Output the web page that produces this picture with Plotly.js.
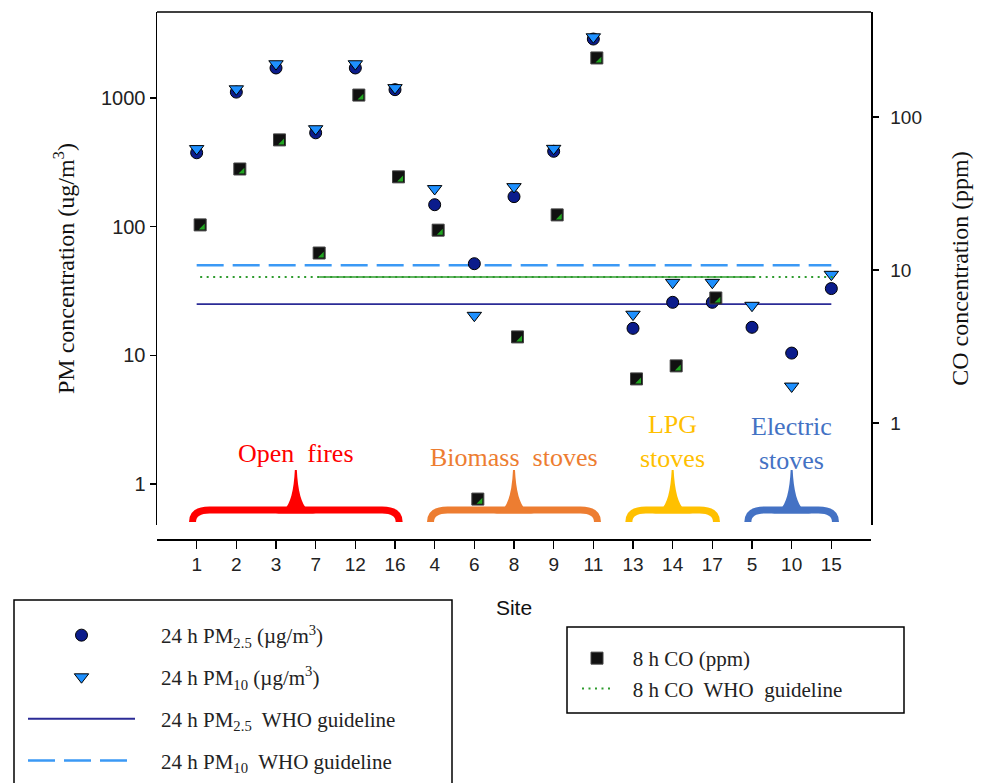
<!DOCTYPE html>
<html><head><meta charset="utf-8">
<script src="https://cdn.plot.ly/plotly-3.0.1.min.js"></script>
<style>html,body{margin:0;padding:0;background:#fff}#chart{width:983px;height:783px}</style>
</head><body><div id="chart"></div>
<script>
// ---------------- data ----------------
const sites = ["1","2","3","7","12","16","4","6","8","9","11","13","14","17","5","10","15"];
const pm25 = [375, 1110, 1710, 536, 1710, 1160, 148, 51.5, 171, 385, 2870, 16.2, 25.8, 25.8, 16.5, 10.4, 33];
const pm10 = [403, 1175, 1840, 575, 1840, 1200, 197, 20.4, 204, 405, 2980, 20.8, 36.8, 36.8, 24.4, 5.75, 42.5];
const co   = [19.7, 45.7, 70.8, 12.9, 139, 40.6, 18.2, 0.318, 3.65, 22.9, 243, 1.94, 2.36, 6.56, null, null, null];
const pm25Guideline = 25;   // ug/m3
const pm10Guideline = 50;   // ug/m3
const coGuideline = 9;      // ppm
const coGuidelineSolidSpan = ["7", "5"];
const leftTickVals = [1, 10, 100, 1000];
const leftTickText = ["1", "10", "100", "1000"];
const rightTickVals = [1, 10, 100];
const rightTickText = ["1", "10", "100"];
const groupLabels = ["Open\u00a0 fires", "Biomass\u00a0 stoves", "LPG<br>stoves", "Electric<br>stoves"];
const groupFirst = ["1", "4", "13", "5"];
const groupLast  = ["16", "11", "17", "15"];

// ---------------- styles / layout geometry ----------------
const groupColors = ["#FF0000", "#ED7D31", "#FFC000", "#4472C4"];
const groupLabelY = [453, 457, 441, 443];        // px
const W = 983, H = 783, M = {l: 157, r: 112, t: 12, b: 244, autoexpand: false};
const plotW = W - M.l - M.r, paperH = H - M.t - M.b;
const X_RANGE = [-1, 17];
const LEFT_RANGE = [-0.319, 3.668];
const RIGHT_RANGE = [-0.667, 2.686];
const catPx = plotW / (X_RANGE[1] - X_RANGE[0]);
const coShift = 3.5 / catPx;                       // CO markers drawn slightly right
const triShiftX = 2.6 / catPx;
const triShiftY = 2.6 / (paperH * (1 - 0.02657) / (RIGHT_RANGE[1] - RIGHT_RANGE[0]));
const py = y => (H - M.b - y) / paperH;
const pxPix = x => (x - M.l) / plotW;
const pxIdx = i => (i - X_RANGE[0]) / (X_RANGE[1] - X_RANGE[0]);
const dx = v => v / plotW;
const serif = "Liberation Serif, Times New Roman, serif";
const sans = "Liberation Sans, Arial, sans-serif";
const pad1 = "\u00a0\u00a0\u00a0\u00a0", pad2 = "\u00a0\u00a0\u00a0";

const traces = [
  {x: [sites[0], sites[sites.length - 1]], y: [pm25Guideline, pm25Guideline], mode: "lines",
   name: pad1 + "24 h PM<sub>2.5</sub>  WHO guideline", line: {color: "#2B2B96", width: 1.8},
   legend: "legend", legendgroup: "g3", legendrank: 3},
  {x: [sites[0], sites[sites.length - 1]], y: [pm10Guideline, pm10Guideline], mode: "lines",
   name: pad1 + "24 h PM<sub>10</sub>  WHO guideline", line: {color: "#3B99F5", width: 2.5, dash: "27px,9px"},
   legend: "legend", legendgroup: "g4", legendrank: 4},
  {x: sites, y: pm25, mode: "markers", name: pad1 + "24 h PM<sub>2.5</sub> (µg/m<sup>3</sup>)",
   marker: {symbol: "circle", size: 12, color: "#0B1C8C", line: {color: "#000", width: 1}},
   legend: "legend", legendgroup: "g1", legendrank: 1},
  {x: sites, y: pm10, mode: "markers", name: pad1 + "24 h PM<sub>10</sub> (µg/m<sup>3</sup>)",
   marker: {symbol: "triangle-down", size: 12.5, color: "#1E90FF", line: {color: "#000", width: 1}},
   legend: "legend", legendgroup: "g2", legendrank: 2},
  {x: [sites[0], sites[sites.length - 1]], y: [coGuideline, coGuideline], mode: "lines",
   xaxis: "x2", yaxis: "y2", name: pad2 + "8 h CO  WHO  guideline",
   line: {color: "#2E9B2E", width: 2, dash: "2px,4.5px"},
   legend: "legend2", legendgroup: "c2", legendrank: 2},
  {x: coGuidelineSolidSpan, y: [coGuideline, coGuideline], mode: "lines", xaxis: "x2", yaxis: "y2",
   showlegend: false, line: {color: "#2E9B2E", width: 1.6}},
  {x: sites, y: co, mode: "markers", xaxis: "x2", yaxis: "y2", name: pad2 + "8 h CO (ppm)",
   marker: {symbol: "square", size: 12, color: "#111", line: {color: "#444", width: 1}},
   legend: "legend2", legendgroup: "c1", legendrank: 1},
  {x: sites, y: co, mode: "markers", xaxis: "x3", yaxis: "y3", showlegend: false,
   marker: {symbol: "triangle-se", size: 6.5, color: "#22A522", line: {width: 0}}}
];

const catAxis = {type: "category", categoryorder: "array", categoryarray: sites, showgrid: false, zeroline: false, fixedrange: true};
const shapes = [
  {type: "line", xref: "paper", yref: "paper", x0: 0, x1: 1, y0: 1, y1: 1, line: {color: "#000", width: 1.5}},
  {type: "rect", xref: "paper", yref: "paper", x0: pxPix(14), x1: pxPix(452), y0: py(600), y1: py(800),
   line: {color: "#000", width: 1.5}, fillcolor: "rgba(0,0,0,0)"},
  {type: "rect", xref: "paper", yref: "paper", x0: pxPix(567), x1: pxPix(904), y0: py(627), y1: py(713),
   line: {color: "#000", width: 1.5}, fillcolor: "rgba(0,0,0,0)"}
];
const annotations = [];
const P = (xp, ypix) => xp.toFixed(5) + "," + py(ypix).toFixed(5);
groupLabels.forEach((lab, k) => {
  const i0 = sites.indexOf(groupFirst[k]), i1 = sites.indexOf(groupLast[k]);
  const xa = pxIdx(i0 - 0.18), xb = pxIdx(i1 + 0.18), xc = pxIdx((i0 + i1) / 2);
  const armY = 510, endY = 522, tipY = 470;
  shapes.push({type: "path", xref: "paper", yref: "paper",
    path: `M${P(xa + dx(3), endY)} Q${P(xa + dx(3), armY)} ${P(xa + dx(20), armY)} L${P(xb - dx(20), armY)} Q${P(xb - dx(3), armY)} ${P(xb - dx(3), endY)}`,
    line: {color: groupColors[k], width: 7}, fillcolor: "rgba(0,0,0,0)"});
  shapes.push({type: "path", xref: "paper", yref: "paper",
    path: `M${P(xc - dx(20), armY + 3.4)} Q${P(xc - dx(3), armY + 3)} ${P(xc - dx(1), tipY)} L${P(xc + dx(1), tipY)} Q${P(xc + dx(3), armY + 3)} ${P(xc + dx(20), armY + 3.4)} Z`,
    line: {width: 0}, fillcolor: groupColors[k]});
  annotations.push({xref: "paper", yref: "paper", x: xc, y: py(groupLabelY[k]), xanchor: "center", yanchor: "middle",
    text: lab, showarrow: false, font: {family: serif, size: 26, color: groupColors[k]}});
});

const layout = {
  width: W, height: H, margin: M, paper_bgcolor: "#fff", plot_bgcolor: "#fff",
  font: {family: sans, color: "#222"}, hovermode: false, dragmode: false,
  xaxis: Object.assign({}, catAxis, {range: X_RANGE, anchor: "free", position: 0,
    showline: true, linecolor: "#000", linewidth: 1.5, ticks: "outside", ticklen: 8, tickwidth: 1.3, tickcolor: "#000",
    tickfont: {family: "Liberation Sans Narrow, Arial Narrow, Liberation Sans, Arial", size: 19, color: "#222"},
    title: {text: "Site", font: {family: sans, size: 21, color: "#111"}, standoff: 26}, automargin: false}),
  yaxis: {type: "log", range: LEFT_RANGE, domain: [0.02657, 1], tickvals: leftTickVals, ticktext: leftTickText,
    showline: true, linecolor: "#000", linewidth: 1.5, ticks: "outside", ticklen: 6, tickwidth: 1.3, tickcolor: "#000",
    showgrid: false, zeroline: false, fixedrange: true, automargin: false,
    tickfont: {family: sans, size: 20, color: "#222"},
    title: {text: "PM concentration (ug/m<sup>3</sup>)", font: {family: serif, size: 24, color: "#111"}, standoff: 19}},
  yaxis2: {type: "log", range: RIGHT_RANGE, overlaying: "y", side: "right", anchor: "x2",
    tickvals: rightTickVals, ticktext: rightTickText,
    showline: true, linecolor: "#000", linewidth: 1.5, ticks: "outside", ticklen: 6, tickwidth: 1.3, tickcolor: "#000",
    showgrid: false, zeroline: false, fixedrange: true, automargin: false, ticklabelstandoff: 8,
    tickfont: {family: sans, size: 19, color: "#222"},
    title: {text: "CO concentration (ppm)", font: {family: serif, size: 24, color: "#111"}, standoff: 30}},
  xaxis2: Object.assign({}, catAxis, {overlaying: "x", anchor: "y2", visible: false,
    range: [X_RANGE[0] - coShift, X_RANGE[1] - coShift]}),
  xaxis3: Object.assign({}, catAxis, {overlaying: "x", anchor: "y3", visible: false,
    range: [X_RANGE[0] - coShift - triShiftX, X_RANGE[1] - coShift - triShiftX]}),
  yaxis3: {type: "log", overlaying: "y", anchor: "x3", visible: false, fixedrange: true,
    range: [RIGHT_RANGE[0] + triShiftY, RIGHT_RANGE[1] + triShiftY]},
  legend: {x: pxPix(23), y: py(615), xanchor: "left", yanchor: "top", itemwidth: 107,
    traceorder: "grouped", tracegroupgap: 11.5, bgcolor: "rgba(0,0,0,0)", borderwidth: 0,
    font: {family: serif, size: 21, color: "#222"}, itemclick: false, itemdoubleclick: false},
  legend2: {x: pxPix(577), y: py(638), xanchor: "left", yanchor: "top", itemwidth: 30,
    traceorder: "grouped", tracegroupgap: 0, bgcolor: "rgba(0,0,0,0)", borderwidth: 0,
    font: {family: serif, size: 21, color: "#222"}, itemclick: false, itemdoubleclick: false},
  shapes: shapes, annotations: annotations
};
Plotly.newPlot("chart", traces, layout, {staticPlot: true, displayModeBar: false});
</script></body></html>
